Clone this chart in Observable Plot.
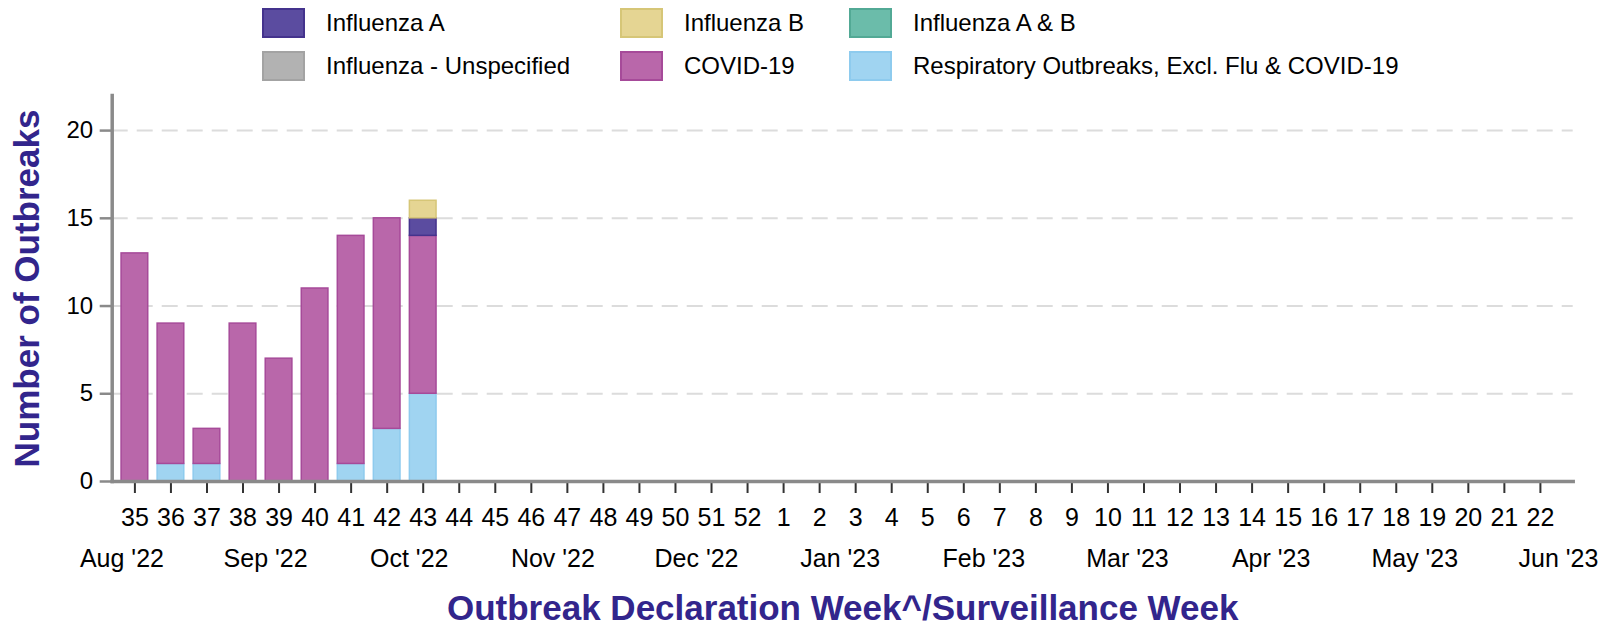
<!DOCTYPE html>
<html>
<head>
<meta charset="utf-8">
<script src="https://cdn.jsdelivr.net/npm/d3@7"></script>
<script src="https://cdn.jsdelivr.net/npm/@observablehq/plot@0.6"></script>
<style>
  body { margin: 0; background: #fff; font-family: "Liberation Sans", Arial, sans-serif; }
  #wrap { position: relative; width: 1612px; height: 627px; overflow: hidden; }
  #legend { position: relative; height: 88px; }
  .item { position: absolute; display: flex; align-items: center; font-size: 24px; color: #000; white-space: nowrap; }
  .sw { width: 43px; height: 30px; box-sizing: border-box; border: 2px solid; margin-right: 21px; }
</style>
</head>
<body>
<div id="wrap">
  <div id="legend"></div>
  <div id="chart"></div>
</div>
<script>
// ---- data ----
const weeks = [35,36,37,38,39,40,41,42,43,44,45,46,47,48,49,50,51,52,1,2,3,4,5,6,7,8,9,10,11,12,13,14,15,16,17,18,19,20,21,22];
const monthLabels = ["Aug '22","Sep '22","Oct '22","Nov '22","Dec '22","Jan '23","Feb '23","Mar '23","Apr '23","May '23","Jun '23"];
const yTicks = [0,5,10,15,20];

const respiratoryOther = [0,1,1,0,0,0,1,3,5,0,0,0,0,0,0,0,0,0,0,0,0,0,0,0,0,0,0,0,0,0,0,0,0,0,0,0,0,0,0,0];
const covid19          = [13,8,2,9,7,11,13,12,9,0,0,0,0,0,0,0,0,0,0,0,0,0,0,0,0,0,0,0,0,0,0,0,0,0,0,0,0,0,0,0];
const influenzaA       = [0,0,0,0,0,0,0,0,1,0,0,0,0,0,0,0,0,0,0,0,0,0,0,0,0,0,0,0,0,0,0,0,0,0,0,0,0,0,0,0];
const influenzaB       = [0,0,0,0,0,0,0,0,1,0,0,0,0,0,0,0,0,0,0,0,0,0,0,0,0,0,0,0,0,0,0,0,0,0,0,0,0,0,0,0];
const influenzaAB      = [0,0,0,0,0,0,0,0,0,0,0,0,0,0,0,0,0,0,0,0,0,0,0,0,0,0,0,0,0,0,0,0,0,0,0,0,0,0,0,0];
const influenzaUnspec  = [0,0,0,0,0,0,0,0,0,0,0,0,0,0,0,0,0,0,0,0,0,0,0,0,0,0,0,0,0,0,0,0,0,0,0,0,0,0,0,0];

// stacking order (bottom to top)
const seriesNames = ["Respiratory Outbreaks, Excl. Flu & COVID-19","COVID-19","Influenza A","Influenza B","Influenza A & B","Influenza - Unspecified"];
const seriesValues = [respiratoryOther, covid19, influenzaA, influenzaB, influenzaAB, influenzaUnspec];

// legend layout order
const legendOrder = ["Influenza A","Influenza B","Influenza A & B","Influenza - Unspecified","COVID-19","Respiratory Outbreaks, Excl. Flu & COVID-19"];

// ---- styles ----
const fillColors = {
  "Influenza A": "#5b4ca0",
  "Influenza B": "#e5d593",
  "Influenza A & B": "#6bbcaa",
  "Influenza - Unspecified": "#b2b2b2",
  "COVID-19": "#b967aa",
  "Respiratory Outbreaks, Excl. Flu & COVID-19": "#a0d4f1"
};
const strokeColors = {
  "Influenza A": "#44338d",
  "Influenza B": "#d6c677",
  "Influenza A & B": "#52a995",
  "Influenza - Unspecified": "#a3a3a3",
  "COVID-19": "#a64a99",
  "Respiratory Outbreaks, Excl. Flu & COVID-19": "#8ecbee"
};
const titleColor = "#32258c";
const font = "'Liberation Sans', Arial, Helvetica, sans-serif";

// ---- legend (HTML, above the SVG) ----
const legendCols = [262, 620, 849];
const legendRows = [8, 51];
const legend = document.getElementById("legend");
legendOrder.forEach((name, k) => {
  const el = document.createElement("div");
  el.className = "item";
  el.style.left = legendCols[k % 3] + "px";
  el.style.top = legendRows[Math.floor(k / 3)] + "px";
  el.innerHTML = `<div class="sw" style="background:${fillColors[name]};border-color:${strokeColors[name]}"></div><span>${name}</span>`;
  legend.appendChild(el);
});

// ---- rows ----
const rows = [];
weeks.forEach((w, i) => {
  seriesNames.forEach((s, k) => {
    const v = seriesValues[k][i];
    if (v > 0) rows.push({i, week: w, series: s, value: v});
  });
});

const half = 0.37;
const nWeeks = weeks.length;
// month labels laid along the same week index axis
const monthPos = monthLabels.map((m, k) => -0.36 + k * (39.86 / (monthLabels.length - 1)));

const chart = Plot.plot({
  width: 1612,
  height: 539,
  marginLeft: 111.7,
  marginRight: 39.3,
  marginTop: 7,
  marginBottom: 146,
  style: {fontFamily: font, background: "white", overflow: "visible"},
  x: {type: "linear", domain: [-0.63, nWeeks - 0.09], axis: null},
  y: {domain: [0, 22], axis: null},
  color: {type: "identity"},
  marks: [
    Plot.gridY(yTicks.filter(d => d > 0), {stroke: "#dcdcdc", strokeOpacity: 1, strokeWidth: 2, strokeDasharray: "16,9"}),
    Plot.rectY(rows, Plot.stackY({
      x1: d => d.i - half,
      x2: d => d.i + half,
      y: "value",
      z: "series",
      order: seriesNames,
      fill: d => fillColors[d.series],
      stroke: d => strokeColors[d.series],
      strokeWidth: 1.5
    })),
    Plot.axisY({ticks: yTicks, tickSize: 12, tickPadding: 7, fontSize: 24, stroke: "#8a8a8a", strokeWidth: 2.5, label: null, fill: "#000"}),
    Plot.axisX({ticks: d3.range(nWeeks), tickFormat: i => weeks[i], tickSize: 12, tickPadding: 15, fontSize: 25, stroke: "#333", strokeWidth: 2, label: null, fill: "#000"}),
    Plot.frame({anchor: "left", stroke: "#8a8a8a", strokeWidth: 3.5}),
    Plot.frame({anchor: "bottom", stroke: "#8a8a8a", strokeWidth: 3.5}),
    Plot.text(monthLabels, {x: (d, k) => monthPos[k], frameAnchor: "bottom", dy: 77, lineAnchor: "middle", textAnchor: "middle", fontSize: 25, fill: "#000"}),
    Plot.text(["Number of Outbreaks"], {frameAnchor: "left", dx: -84, rotate: -90, lineAnchor: "middle", textAnchor: "middle", fontSize: 35, fontWeight: "bold", fill: titleColor}),
    Plot.text(["Outbreak Declaration Week^/Surveillance Week"], {frameAnchor: "bottom", dy: 127, lineAnchor: "middle", textAnchor: "middle", fontSize: 35, fontWeight: "bold", fill: titleColor})
  ]
});
document.getElementById("chart").appendChild(chart);
</script>
</body>
</html>
